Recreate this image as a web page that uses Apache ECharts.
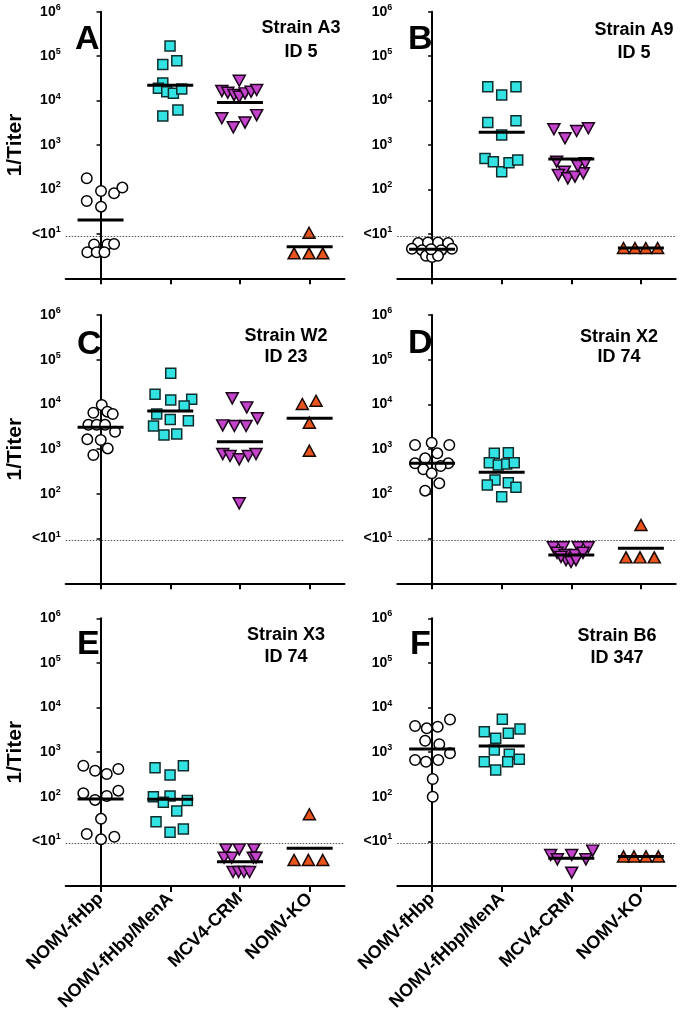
<!DOCTYPE html>
<html>
<head>
<meta charset="utf-8">
<script src="https://cdn.jsdelivr.net/npm/echarts@6/dist/echarts.min.js"></script>
<style>
html,body{margin:0;padding:0;background:#fff;}
#chart{width:680px;height:1025px;}
</style>
</head>
<body>
<div id="chart"></div>
<script>
// ---------- DATA ----------
const categories = ['NOMV-fHbp', 'NOMV-fHbp/MenA', 'MCV4-CRM', 'NOMV-KO'];
const panelLetters = ['A', 'B', 'C', 'D', 'E', 'F'];
const strainLabels = ['Strain A3', 'Strain A9', 'Strain W2', 'Strain X2', 'Strain X3', 'Strain B6'];
const idLabels = ['ID 5', 'ID 5', 'ID 23', 'ID 74', 'ID 74', 'ID 347'];
const yTickExponents = [0, 1, 2, 3, 4, 5, 6];
const lodValue = 9;

// Panel A
const A_values = [
  [178, 92, 55, 82, 110, 41, 5.8, 5.8, 5.9, 3.85, 3.85, 3.85],
  [1.69e5, 6.5e4, 7.9e4, 2.5e4, 1.89e4, 1.58e4, 1.46e4, 1.82e4, 4.5e3, 6.1e3],
  [2.8e4, 1.64e4, 1.5e4, 1.33e4, 1.22e4, 1.45e4, 1.58e4, 1.73e4, 4.0e3, 2.5e3, 3.2e3, 4.7e3],
  [10.6, 3.65, 3.65, 3.65]
];
const A_jitter = [
  [-0.198, 0.007, -0.198, 0.194, 0.313, 0.007, -0.093, 0.098, 0.194, -0.19, -0.055, 0.055],
  [-0.003, -0.107, 0.094, -0.107, -0.17, -0.05, 0.045, 0.165, -0.107, 0.11],
  [-0.01, -0.26, -0.175, -0.085, -0.01, 0.073, 0.16, 0.24, -0.26, -0.095, 0.073, 0.24],
  [-0.009, -0.223, -0.009, 0.188]
];
const A_gmt = [20.5, 2.2e4, 9.1e3, 5.1];

// Panel B
const B_values = [
  [6.2, 6.4, 6.4, 6.2, 4.6, 4.3, 4.3, 4.6, 3.2, 3.0, 3.2, 4.5],
  [2.05e4, 1.34e4, 2.05e4, 3.2e3, 3.5e3, 1.68e3, 500, 422, 251, 400, 460],
  [2.26e3, 1.42e3, 2.07e3, 2.38e3, 421, 251, 211, 178, 194, 231, 337, 388],
  [4.8, 4.8, 4.8, 4.8]
];
const B_jitter = [
  [-0.2, -0.06, 0.085, 0.23, -0.29, -0.145, 0.13, 0.285, -0.088, 0, 0.085, -0.015],
  [-0.2, 0, 0.205, -0.2, 0.205, 0, -0.24, -0.12, 0, 0.105, 0.23],
  [-0.25, -0.09, 0.077, 0.245, -0.21, -0.1, -0.186, -0.05, 0.053, 0.172, 0.092, 0.2],
  [-0.25, -0.085, 0.07, 0.24]
];
const B_gmt = [4.5, 1.93e3, 484, 4.8];

// Panel C
const C_values = [
  [9.7e3, 6.5e3, 6.9e3, 6.1e3, 3.5e3, 3.5e3, 3.5e3, 2.45e3, 1.66e3, 1.6e3, 1.04e3, 740],
  [4.96e4, 1.68e4, 1.26e4, 1.3e4, 9.2e3, 6.1e3, 4.6e3, 4.3e3, 3.3e3, 2.07e3, 2.18e3],
  [1.37e4, 8.6e3, 4.9e3, 3.4e3, 3.3e3, 3.3e3, 778, 703, 592, 703, 778, 61.5],
  [1.02e4, 1.21e4, 3.9e3, 923]
];
const C_jitter = [
  [0.017, -0.103, 0.098, 0.175, -0.175, -0.055, 0.065, 0.208, -0.19, 0.003, 0.103, -0.103],
  [0.007, -0.218, 0.007, 0.308, 0.2, -0.194, 0, 0.26, -0.24, -0.09, 0.093],
  [-0.11, 0.098, 0.25, -0.247, -0.08, 0.088, -0.247, -0.142, -0.01, 0.12, 0.23, -0.01],
  [-0.105, 0.092, -0.004, -0.004]
];
const C_gmt = [3.08e3, 7.1e3, 1.47e3, 4.9e3];

// Panel D
const D_values = [
  [1.24e3, 1.39e3, 1.24e3, 807, 624, 482, 482, 420, 354, 288, 172, 118],
  [807, 832, 497, 442, 465, 497, 204, 158, 178, 140, 86],
  [6.4, 6.4, 6.4, 6.4, 4.8, 4.3, 4.3, 4.8, 3.3, 3.0, 3.3, 3.9],
  [20.1, 3.8, 3.8, 3.8]
];
const D_jitter = [
  [-0.245, -0.006, 0.247, 0.075, -0.1, -0.245, 0.232, 0.123, -0.126, -0.006, 0.103, -0.1],
  [-0.106, 0.095, -0.178, -0.049, 0.072, 0.18, -0.096, -0.207, 0.095, 0.205, 0],
  [-0.258, -0.115, 0.1, 0.243, -0.205, -0.09, 0.053, 0.168, -0.076, -0.004, 0.067, -0.148],
  [0.001, -0.214, -0.013, 0.192]
];
const D_gmt = [482, 303, 4.3, 6.1];

// Panel E
const E_values = [
  [497, 384, 324, 419, 120, 85, 104, 137, 32, 14.6, 11.1, 12.7],
  [448, 497, 307, 100, 104, 75, 82, 48, 27.6, 19, 16],
  [6.6, 6.6, 6.6, 4.3, 4.3, 4.3, 4.3, 2.06, 2.06, 2.06, 2.06],
  [40.5, 3.83, 3.83, 3.83]
];
const E_jitter = [
  [-0.247, -0.079, 0.089, 0.255, -0.247, -0.079, 0.089, 0.255, 0.007, -0.198, 0.007, 0.198],
  [-0.218, 0.188, -0.003, -0.242, -0.003, -0.099, 0.245, 0.093, -0.204, 0.188, -0.003],
  [-0.2, -0.01, 0.2, -0.228, -0.118, 0.192, 0.231, -0.099, -0.02, 0.059, 0.138],
  [-0.004, -0.223, -0.018, 0.188]
];
const E_gmt = [89, 88, 3.5, 7.0];

// Panel F
const F_values = [
  [3.85e3, 3.42e3, 3.7e3, 5.4e3, 1.8e3, 1.5e3, 942, 667, 611, 667, 250, 100],
  [5.45e3, 2.87e3, 2.64e3, 3.3e3, 2.04e3, 1.12e3, 895, 611, 611, 692, 398],
  [4.95, 3.96, 4.95, 3.96, 6.2, 1.99],
  [4.6, 4.6, 4.6, 4.6]
];
const F_jitter = [
  [-0.245, -0.077, 0.08, 0.257, -0.1, 0.103, 0.257, -0.245, -0.088, 0.089, 0.009, 0.009],
  [0.009, -0.25, 0.095, 0.263, -0.086, -0.106, 0.109, -0.25, 0.086, 0.253, -0.086],
  [-0.296, -0.2, 0.006, 0.21, 0.307, 0.006],
  [-0.25, -0.1, 0.073, 0.25]
];
const F_gmt = [1.18e3, 1.37e3, 4.2, 4.6];

// ---------- LAYOUT / STYLE ----------
const FONT = '"Liberation Sans", Arial, Helvetica, sans-serif';
const panelValues = [A_values, B_values, C_values, D_values, E_values, F_values];
const panelJitter = [A_jitter, B_jitter, C_jitter, D_jitter, E_jitter, F_jitter];
const panelGmt = [A_gmt, B_gmt, C_gmt, D_gmt, E_gmt, F_gmt];

const grids = [
  {left: 65.7, top: 11.7, width: 278.8, height: 266.6},
  {left: 397.3, top: 11.7, width: 278.4, height: 266.6},
  {left: 65.7, top: 315, width: 278.8, height: 268.3},
  {left: 397.3, top: 315, width: 278.4, height: 268.3},
  {left: 65.7, top: 618.3, width: 278.8, height: 267.7},
  {left: 397.3, top: 618.3, width: 278.4, height: 267.7}
];
const letterPos = [[75, 39.5], [408, 40], [77, 345], [408, 344], [77, 645], [410, 645]];
const strainPos = [[301, 28.3, 51.7], [634, 30, 53.3], [286, 336, 356.7], [619, 336.7, 356.7], [286, 635, 657.3], [617, 636, 658.3]];

const groupStyles = [
  {symbol: 'circle', size: 10.5, rotate: 0, color: '#ffffff', border: '#000000'},
  {symbol: 'rect', size: 10, rotate: 0, color: '#33E3E3', border: '#0f2e2e'},
  {symbol: 'triangle', size: [12, 11], rotate: 180, color: '#C443CB', border: '#1a001a'},
  {symbol: 'triangle', size: [12, 11], rotate: 0, color: '#E8541C', border: '#1a0800'}
];

const xAxes = [], yAxes = [], series = [], graphics = [];

grids.forEach((g, i) => {
  const isBottom = i >= 4;
  const isLeft = i % 2 === 0;
  xAxes.push({
    type: 'category', gridIndex: i, data: categories, boundaryGap: true,
    axisLine: {show: true, lineStyle: {color: '#000', width: 2}},
    axisTick: {show: true, alignWithLabel: true, length: 6, lineStyle: {color: '#000', width: 2}},
    axisLabel: {
      show: isBottom, interval: 0, rotate: 45, margin: 10,
      fontSize: 18, fontWeight: 'bold', color: '#000', fontFamily: FONT
    },
    splitLine: {show: false}
  });
  xAxes.push({
    type: 'value', gridIndex: i, min: -0.5, max: 3.5, show: false
  });
  yAxes.push({
    type: 'log', logBase: 10, gridIndex: i, min: 1, max: 1e6,
    name: isLeft ? '1/Titer' : '',
    nameLocation: 'middle', nameGap: 40,
    nameTextStyle: {fontSize: 21, fontWeight: 'bold', color: '#000', fontFamily: FONT},
    axisLine: {show: true, lineStyle: {color: '#000', width: 2}},
    axisTick: {show: true, length: 4, lineStyle: {color: '#000', width: 1.5}},
    minorTick: {show: false},
    splitLine: {show: false},
    axisLabel: {
      margin: 5, fontSize: 14, fontWeight: 'bold', color: '#000', fontFamily: FONT,
      lineHeight: 18,
      formatter: function (v) {
        const e = Math.round(Math.log10(v));
        if (yTickExponents.indexOf(e) < 0 || e === 0) return '';
        if (e === 1) return '<10{s|1}';
        return '10{s|' + e + '}';
      },
      rich: {
        s: {fontSize: 9, fontWeight: 'bold', color: '#000', fontFamily: FONT, verticalAlign: 'top', lineHeight: 11}
      }
    }
  });

  const vals = panelValues[i], jit = panelJitter[i];
  vals.forEach((arr, k) => {
    const st = groupStyles[k];
    const s = {
      type: 'scatter',
      xAxisIndex: 2 * i + 1, yAxisIndex: i,
      symbol: st.symbol, symbolSize: st.size, symbolRotate: st.rotate,
      itemStyle: {color: st.color, borderColor: st.border, borderWidth: 1.5, opacity: 1},
      emphasis: {disabled: true},
      z: 3,
      data: arr.map((v, j) => [k + jit[k][j], v])
    };
    if (k === 0) {
      s.markLine = {
        silent: true, symbol: 'none', animation: false,
        label: {show: false},
        lineStyle: {type: [1.5, 1.5], color: '#555', width: 1},
        emphasis: {disabled: true},
        data: [{yAxis: lodValue}]
      };
    }
    series.push(s);
  });

  series.push({
    type: 'custom',
    xAxisIndex: 2 * i + 1, yAxisIndex: i,
    z: 5,
    encode: {x: 0, y: 1},
    data: panelGmt[i].map((m, k) => [k, m]),
    renderItem: function (params, api) {
      const x = api.value(0), y = api.value(1);
      const p1 = api.coord([x - 0.33, y]);
      const p2 = api.coord([x + 0.33, y]);
      return {
        type: 'line',
        shape: {x1: p1[0], y1: p1[1], x2: p2[0], y2: p2[1]},
        style: {stroke: '#000', lineWidth: 3}
      };
    }
  });

  graphics.push({
    type: 'text', x: letterPos[i][0], y: letterPos[i][1],
    style: {text: panelLetters[i], font: 'bold 34px ' + FONT, fill: '#000', textAlign: 'left', textVerticalAlign: 'middle'}
  });
  graphics.push({
    type: 'text', x: strainPos[i][0], y: strainPos[i][1],
    style: {text: strainLabels[i], font: 'bold 18px ' + FONT, fill: '#000', textAlign: 'center', textVerticalAlign: 'middle'}
  });
  graphics.push({
    type: 'text', x: strainPos[i][0], y: strainPos[i][2],
    style: {text: idLabels[i], font: 'bold 18px ' + FONT, fill: '#000', textAlign: 'center', textVerticalAlign: 'middle'}
  });
});

const chart = echarts.init(document.getElementById('chart'), null, {renderer: 'canvas'});
chart.setOption({
  animation: false,
  backgroundColor: '#fff',
  textStyle: {fontFamily: FONT},
  grid: grids,
  xAxis: xAxes,
  yAxis: yAxes,
  series: series,
  graphic: graphics
});
</script>
</body>
</html>
